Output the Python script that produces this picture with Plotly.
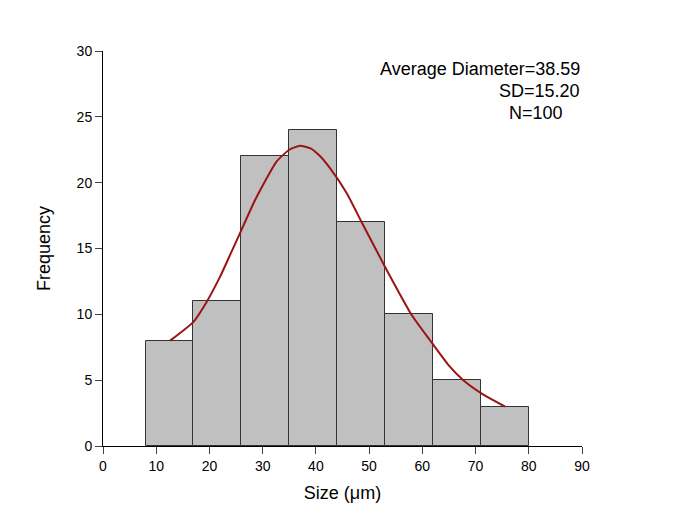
import plotly.graph_objects as go

# Histogram data
bin_left = [8, 17, 26, 35, 44, 53, 62, 71]
bin_width = 9
counts = [8, 11, 22, 24, 17, 10, 5, 3]

# Fitted curve
curve_x = [12.6, 17.0, 19.5, 22.0, 24.2, 26.0, 28.6, 32.6, 35.0, 37.0, 39.0, 40.8, 42.65,
           45.8, 48.6, 53.0, 58.0, 61.4, 65.0, 67.7, 71.1, 75.5]
curve_y = [8.0, 9.43, 10.96, 12.86, 14.8, 16.4, 18.7, 21.6, 22.5, 22.8, 22.6, 22.0, 21.1,
           19.2, 17.0, 13.6, 9.95, 8.05, 6.1, 5.0, 4.0, 3.0]

x_ticks = [0, 10, 20, 30, 40, 50, 60, 70, 80, 90]
y_ticks = [0, 5, 10, 15, 20, 25, 30]

centers = [l + bin_width / 2 for l in bin_left]

fig = go.Figure()
fig.add_trace(go.Bar(
    x=centers, y=counts, width=[bin_width] * len(counts),
    marker=dict(color="#c0c0c0", line=dict(color="#333333", width=1)),
    showlegend=False, hoverinfo="x+y",
))
fig.add_trace(go.Scatter(
    x=curve_x, y=curve_y, mode="lines",
    line=dict(color="#9b1414", width=2, shape="spline", smoothing=0.5),
    showlegend=False,
))

font_family = "Liberation Sans, Arial, sans-serif"
fig.update_layout(
    width=685, height=525,
    margin=dict(l=95, r=111, t=43, b=87),
    paper_bgcolor="white", plot_bgcolor="white",
    font=dict(family=font_family, color="black", size=14),
    bargap=0,
    xaxis=dict(
        range=[0, 90], tickvals=x_ticks, ticks="outside", ticklen=7, tickwidth=1,
        showline=True, linecolor="black", linewidth=1, showgrid=False, zeroline=False,
        title=dict(text="Size (μm)", font=dict(size=18), standoff=13),
        tickfont=dict(size=14),
    ),
    yaxis=dict(
        range=[0, 30], tickvals=y_ticks, ticks="outside", ticklen=7, tickwidth=1,
        showline=True, linecolor="black", linewidth=1, showgrid=False, zeroline=False,
        title=dict(text="Frequency", font=dict(size=18), standoff=21),
        tickfont=dict(size=14),
    ),
    annotations=[
        dict(x=1.0, y=1 - (69 - 51) / 395, xref="paper", yref="paper", text="Average Diameter=38.59",
             showarrow=False, xanchor="right", yanchor="middle", font=dict(size=18)),
        dict(x=1.0, y=1 - (91 - 51) / 395, xref="paper", yref="paper", text="SD=15.20",
             showarrow=False, xanchor="right", yanchor="middle", font=dict(size=18)),
        dict(x=(536 - 103) / 479, y=1 - (113 - 51) / 395, xref="paper", yref="paper", text="N=100",
             showarrow=False, xanchor="center", yanchor="middle", font=dict(size=18)),
    ],
)

fig.write_html("out.html")
